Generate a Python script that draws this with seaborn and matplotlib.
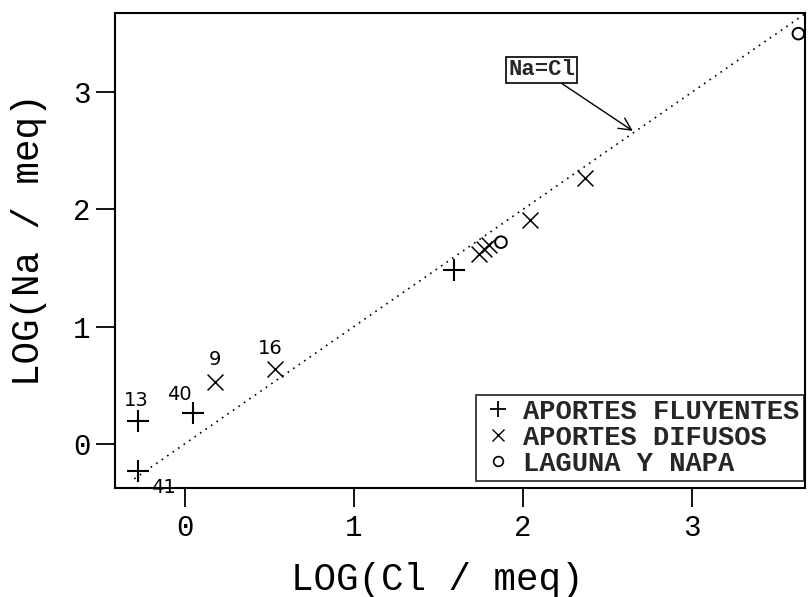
import matplotlib
matplotlib.use("Agg")
import matplotlib.pyplot as plt
import seaborn as sns
import pandas as pd
from matplotlib.lines import Line2D

# --- data ---
fluy_cl = [-0.28, -0.28, 0.05, 1.59]
fluy_na = [0.19, -0.23, 0.26, 1.48]
fluy_lab = ["13", "41", "40", ""]

dif_cl = [0.18, 0.53, 1.74, 1.77, 1.80, 2.04, 2.37]
dif_na = [0.53, 0.64, 1.62, 1.66, 1.70, 1.91, 2.27]
dif_lab = ["9", "16", "", "", "", "", ""]

lag_cl = [1.87, 3.63]
lag_na = [1.72, 3.50]

line_x = [-0.30, 3.67]
line_y = [-0.30, 3.67]

groups = ["APORTES FLUYENTES", "APORTES DIFUSOS", "LAGUNA Y NAPA"]

df = pd.concat([
    pd.DataFrame({"cl": fluy_cl, "na": fluy_na, "g": groups[0]}),
    pd.DataFrame({"cl": dif_cl, "na": dif_na, "g": groups[1]}),
    pd.DataFrame({"cl": lag_cl, "na": lag_na, "g": groups[2]}),
], ignore_index=True)

sns.set_style("white")
plt.rcParams["font.family"] = ["Liberation Mono", "DejaVu Sans Mono"]

fig = plt.figure(figsize=(8.1, 5.97), dpi=100)
ax = fig.add_axes([0.142, 0.183, 0.852, 0.795])

sns.lineplot(x=line_x, y=line_y, ax=ax, color="black", linestyle=(0, (1, 3)),
             linewidth=1.2, legend=False)

sns.scatterplot(data=df[df.g == groups[0]], x="cl", y="na", marker="+", s=260,
                color="black", linewidth=1.5, ax=ax, legend=False)
sns.scatterplot(data=df[df.g == groups[1]], x="cl", y="na", marker="x", s=130,
                color="black", linewidth=1.1, ax=ax, legend=False)
sns.scatterplot(data=df[df.g == groups[2]], x="cl", y="na", marker="o", s=70,
                facecolor="none", edgecolor="black", linewidth=1.4, ax=ax, legend=False)

# point labels
lab_font = dict(fontsize=14, family="DejaVu Sans", color="black")
offsets = {"13": (-1, 8, "center", "bottom"), "41": (10, -5, "left", "top"),
           "40": (-1, 7, "right", "bottom"), "9": (0, 9, "center", "bottom"),
           "16": (-3, 8, "center", "bottom")}
for xs, ys, ls in [(fluy_cl, fluy_na, fluy_lab), (dif_cl, dif_na, dif_lab)]:
    for x, y, l in zip(xs, ys, ls):
        if l:
            dx, dy, ha, va = offsets[l]
            ax.annotate(l, (x, y), xytext=(dx, dy), textcoords="offset points",
                        ha=ha, va=va, **lab_font)

ax.annotate("Na=Cl", xy=(2.65, 2.67), xytext=(2.11, 3.19),
            ha="center", va="center", fontsize=16, fontweight="bold",
            bbox=dict(boxstyle="square,pad=0.1", fc="white", ec="black", lw=1.2),
            arrowprops=dict(arrowstyle="->", color="black", lw=1.0,
                            shrinkA=0, shrinkB=0, mutation_scale=22))

ax.set_xlim(-0.414, 3.67)
ax.set_ylim(-0.376, 3.675)
ax.set_xticks([0, 1, 2, 3])
ax.set_yticks([0, 1, 2, 3])
ax.tick_params(axis="both", direction="out", length=14, width=1.3,
               labelsize=21, color="black", labelcolor="black", bottom=True, left=True)
ax.tick_params(axis="x", pad=5)
ax.set_xlabel("LOG(Cl / meq)", fontsize=27, color="black", va="center")
ax.set_ylabel("LOG(Na / meq)", fontsize=27, color="black", va="center")
ax.xaxis.set_label_coords(0.467, -0.194)
ax.yaxis.set_label_coords(-0.125, 0.522)
for sp in ax.spines.values():
    sp.set_visible(True)
    sp.set_color("black")
    sp.set_linewidth(1.5)

handles = [
    Line2D([], [], marker="+", ls="none", color="black", markersize=12, mew=1.3),
    Line2D([], [], marker="x", ls="none", color="black", markersize=8, mew=1.0),
    Line2D([], [], marker="o", ls="none", mfc="none", mec="black", markersize=7, mew=1.2),
]
leg = ax.legend(handles, groups, loc="lower right", bbox_to_anchor=(0.998, 0.015),
                frameon=True, fancybox=False, edgecolor="black",
                prop={"size": 19.5, "weight": "bold"}, handlelength=1.3,
                handletextpad=0.3, borderpad=0.15, labelspacing=0.0,
                borderaxespad=0)
leg.get_frame().set_linewidth(1.3)

fig.savefig("out.png", dpi=100, facecolor="white")
